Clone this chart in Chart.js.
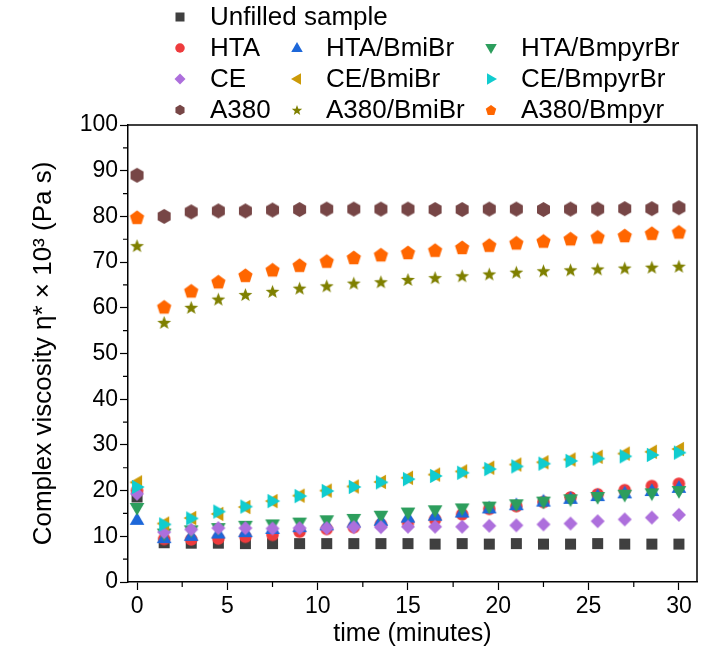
<!DOCTYPE html>
<html>
<head>
<meta charset="utf-8">
<script src="https://cdn.jsdelivr.net/npm/chart.js@4/dist/chart.umd.min.js"></script>
<style>
  html, body { margin: 0; padding: 0; background: #ffffff; }
  #wrap { width: 710px; height: 648px; }
</style>
</head>
<body>
<div id="wrap"><canvas id="c" width="710" height="648"></canvas></div>
<script>
// ---- data ----
const times = [0, 1.5, 3, 4.5, 6, 7.5, 9, 10.5, 12, 13.5, 15, 16.5, 18, 19.5, 21, 22.5, 24, 25.5, 27, 28.5, 30];
const xTicks = [0, 5, 10, 15, 20, 25, 30];
const yTicks = [0, 10, 20, 30, 40, 50, 60, 70, 80, 90, 100];
const seriesLabels = ['Unfilled sample', 'HTA', 'HTA/BmiBr', 'HTA/BmpyrBr', 'CE', 'CE/BmiBr', 'CE/BmpyrBr', 'A380', 'A380/BmiBr', 'A380/Bmpyr'];
const unfilled  = [18.6, 8.6, 8.5, 8.5, 8.4, 8.4, 8.4, 8.4, 8.4, 8.4, 8.4, 8.3, 8.4, 8.3, 8.4, 8.3, 8.3, 8.4, 8.3, 8.3, 8.3];
const hta       = [20.0, 9.4, 9.3, 9.5, 9.9, 10.3, 11.0, 11.6, 12.0, 12.6, 13.0, 13.7, 14.8, 16.0, 16.6, 17.5, 18.5, 19.2, 20.1, 21.0, 21.5];
const htaBmi    = [13.6, 9.6, 10.1, 10.6, 10.9, 11.6, 12.0, 12.4, 13.0, 13.4, 14.1, 14.5, 15.2, 16.1, 16.8, 17.6, 18.2, 18.8, 19.4, 19.9, 20.6];
const htaBmpyr  = [16.2, 10.6, 11.3, 11.8, 12.3, 12.6, 13.0, 13.5, 13.8, 14.5, 15.2, 15.7, 16.1, 16.5, 17.0, 17.6, 18.1, 18.6, 19.1, 19.4, 19.9];
const ce        = [19.3, 10.9, 11.5, 11.8, 11.8, 11.7, 11.8, 11.8, 12.0, 12.0, 12.1, 12.1, 12.1, 12.3, 12.4, 12.6, 12.8, 13.3, 13.7, 14.1, 14.7];
const ceBmi     = [21.8, 12.8, 14.0, 14.9, 16.4, 17.7, 18.9, 20.0, 20.9, 21.9, 22.8, 23.5, 24.2, 25.0, 25.7, 26.2, 26.8, 27.4, 28.1, 28.5, 29.1];
const ceBmpyr   = [20.8, 12.6, 13.9, 15.4, 16.5, 17.7, 18.8, 19.9, 20.8, 21.8, 22.5, 23.2, 23.9, 24.7, 25.3, 25.9, 26.5, 27.0, 27.5, 27.8, 28.3];
const a380      = [89.0, 80.0, 81.0, 81.2, 81.2, 81.4, 81.5, 81.6, 81.6, 81.6, 81.6, 81.5, 81.5, 81.6, 81.6, 81.5, 81.6, 81.6, 81.7, 81.7, 81.9];
const a380Bmi   = [73.6, 56.8, 60.1, 61.9, 62.9, 63.6, 64.3, 64.8, 65.4, 65.7, 66.2, 66.6, 67.0, 67.4, 67.8, 68.1, 68.3, 68.5, 68.7, 68.9, 69.1];
const a380Bmpyr = [79.8, 60.2, 63.7, 65.7, 67.1, 68.3, 69.3, 70.2, 71.0, 71.6, 72.1, 72.6, 73.2, 73.7, 74.2, 74.6, 75.1, 75.5, 75.8, 76.3, 76.6];
const seriesValues = [unfilled, hta, htaBmi, htaBmpyr, ce, ceBmi, ceBmpyr, a380, a380Bmi, a380Bmpyr];

// ---- styles ----
const colors = ['#3f3f3f', '#ee3b3d', '#1d67d9', '#2d9e5d', '#ad6fdc', '#cc9a08', '#10cccf', '#774646', '#7f8000', '#ff6600'];
const shapes = ['square', 'circle', 'triUp', 'triDown', 'diamond', 'triLeft', 'triRight', 'hexagon', 'star', 'pentagon'];
const chartSizes = [11, 12.5, 14, 14, 14, 14, 14, 15, 14.5, 15];
const legendSizes = [9, 9.5, 11, 11, 11, 11, 11, 10.5, 11, 11];
const FONT = "'Liberation Sans', Arial, sans-serif";

function polygon(ctx, cx, cy, n, R, startDeg) {
  ctx.beginPath();
  for (let i = 0; i < n; i++) {
    const a = (startDeg + i * 360 / n) * Math.PI / 180;
    const px = cx + R * Math.cos(a), py = cy + R * Math.sin(a);
    if (i === 0) ctx.moveTo(px, py); else ctx.lineTo(px, py);
  }
  ctx.closePath();
  ctx.fill();
}
function drawShape(ctx, shape, cx, cy, s, color) {
  ctx.save();
  ctx.fillStyle = color;
  const triR = s / Math.sqrt(3) * 1.05;
  switch (shape) {
    case 'square': ctx.fillRect(cx - s / 2, cy - s / 2, s, s); break;
    case 'circle': ctx.beginPath(); ctx.arc(cx, cy, s / 2, 0, Math.PI * 2); ctx.fill(); break;
    case 'triUp': polygon(ctx, cx, cy + triR * 0.1, 3, triR, -90); break;
    case 'triDown': polygon(ctx, cx, cy - triR * 0.1, 3, triR, 90); break;
    case 'triLeft': polygon(ctx, cx + triR * 0.1, cy, 3, triR, 180); break;
    case 'triRight': polygon(ctx, cx - triR * 0.1, cy, 3, triR, 0); break;
    case 'diamond': polygon(ctx, cx, cy, 4, s / 2, -90); break;
    case 'hexagon': polygon(ctx, cx, cy, 6, s / 2, -90); break;
    case 'pentagon': polygon(ctx, cx, cy + s * 0.04, 5, s / 2, -90); break;
    case 'star': {
      ctx.beginPath();
      const R = s / 2, r = R * 0.42;
      for (let i = 0; i < 10; i++) {
        const a = (-90 + i * 36) * Math.PI / 180;
        const rr = i % 2 === 0 ? R : r;
        const px = cx + rr * Math.cos(a), py = cy + s * 0.05 + rr * Math.sin(a);
        if (i === 0) ctx.moveTo(px, py); else ctx.lineTo(px, py);
      }
      ctx.closePath(); ctx.fill();
      break;
    }
  }
  ctx.restore();
}
function makeMarker(shape, s, color) {
  const d = Math.ceil(s + 4);
  const cv = document.createElement('canvas');
  cv.width = d; cv.height = d;
  drawShape(cv.getContext('2d'), shape, d / 2, d / 2, s, color);
  return cv;
}

const datasets = seriesLabels.map((lab, i) => ({
  label: lab,
  data: times.map((t, j) => ({ x: t, y: seriesValues[i][j] })),
  showLine: false,
  pointStyle: makeMarker(shapes[i], chartSizes[i], colors[i]),
  backgroundColor: colors[i],
  borderColor: colors[i],
  order: seriesLabels.length - i,
  shapeName: shapes[i]
}));

// ---- plugins: legend, frame, minor ticks ----
const legendLayout = {
  rows: [17, 48, 79, 110],
  cols: [{ m: 180, t: 210 }, { m: 297, t: 326 }, { m: 491, t: 521 }],
  slots: [[0, 0], [1, 0], [1, 1], [1, 2], [2, 0], [2, 1], [2, 2], [3, 0], [3, 1], [3, 2]]
};
const customLegend = {
  id: 'customLegend',
  afterDraw(chart) {
    const ctx = chart.ctx;
    ctx.save();
    ctx.font = '26px ' + FONT;
    ctx.fillStyle = '#000';
    ctx.textBaseline = 'middle';
    ctx.textAlign = 'left';
    chart.data.datasets.forEach((ds, i) => {
      const [r, c] = legendLayout.slots[i];
      const y = legendLayout.rows[r];
      const col = legendLayout.cols[c];
      drawShape(ctx, ds.shapeName, col.m, y, legendSizes[i], ds.backgroundColor);
      ctx.fillText(ds.label, col.t, y + 1);
    });
    ctx.restore();
  }
};
const frame = {
  id: 'frame',
  afterDraw(chart) {
    const { ctx, chartArea: a, scales } = chart;
    ctx.save();
    ctx.strokeStyle = '#000';
    ctx.lineWidth = 1.5;
    ctx.beginPath();
    ctx.moveTo(a.left, a.top); ctx.lineTo(a.right, a.top); ctx.lineTo(a.right, a.bottom);
    ctx.stroke();
    // minor ticks
    ctx.lineWidth = 1.2;
    ctx.beginPath();
    for (let v = 2.5; v <= 30; v += 5) {
      const px = scales.x.getPixelForValue(v);
      ctx.moveTo(px, a.bottom); ctx.lineTo(px, a.bottom + 5);
    }
    for (let v = 5; v < 100; v += 10) {
      const py = scales.y.getPixelForValue(v);
      ctx.moveTo(a.left, py); ctx.lineTo(a.left - 5, py);
    }
    ctx.stroke();
    ctx.restore();
  }
};

new Chart(document.getElementById('c'), {
  type: 'scatter',
  data: { datasets },
  plugins: [customLegend, frame],
  options: {
    responsive: false,
    animation: false,
    devicePixelRatio: 1,
    layout: { padding: { top: 125, right: 13, left: 0, bottom: 0 } },
    plugins: { legend: { display: false }, tooltip: { enabled: false } },
    scales: {
      x: {
        type: 'linear',
        min: -0.5, max: 31,
        afterBuildTicks: (s) => { s.ticks = xTicks.map(v => ({ value: v })); },
        afterFit: (s) => { s.height = 66; },
        ticks: { color: '#000', font: { family: FONT, size: 23 }, padding: 3, maxRotation: 0 },
        grid: { display: true, drawOnChartArea: false, drawTicks: true, tickLength: 8, tickColor: '#000', tickWidth: 1.2 },
        border: { display: true, color: '#000', width: 1.5 },
        title: { display: true, text: 'time (minutes)', color: '#000', font: { family: FONT, size: 25, lineHeight: 1.1 }, padding: { top: 0, bottom: 0 } }
      },
      y: {
        type: 'linear',
        min: 0, max: 100,
        afterBuildTicks: (s) => { s.ticks = yTicks.map(v => ({ value: v })); },
        afterFit: (s) => { s.width = 128; },
        ticks: { color: '#000', font: { family: FONT, size: 23 }, padding: 2 },
        grid: { display: true, drawOnChartArea: false, drawTicks: true, tickLength: 8, tickColor: '#000', tickWidth: 1.2 },
        border: { display: true, color: '#000', width: 1.5 },
        title: { display: true, text: 'Complex viscosity η* × 10³ (Pa s)', color: '#000', font: { family: FONT, size: 26, lineHeight: 1.1 }, padding: { top: 30, bottom: 0 } }
      }
    }
  }
});
</script>
</body>
</html>
